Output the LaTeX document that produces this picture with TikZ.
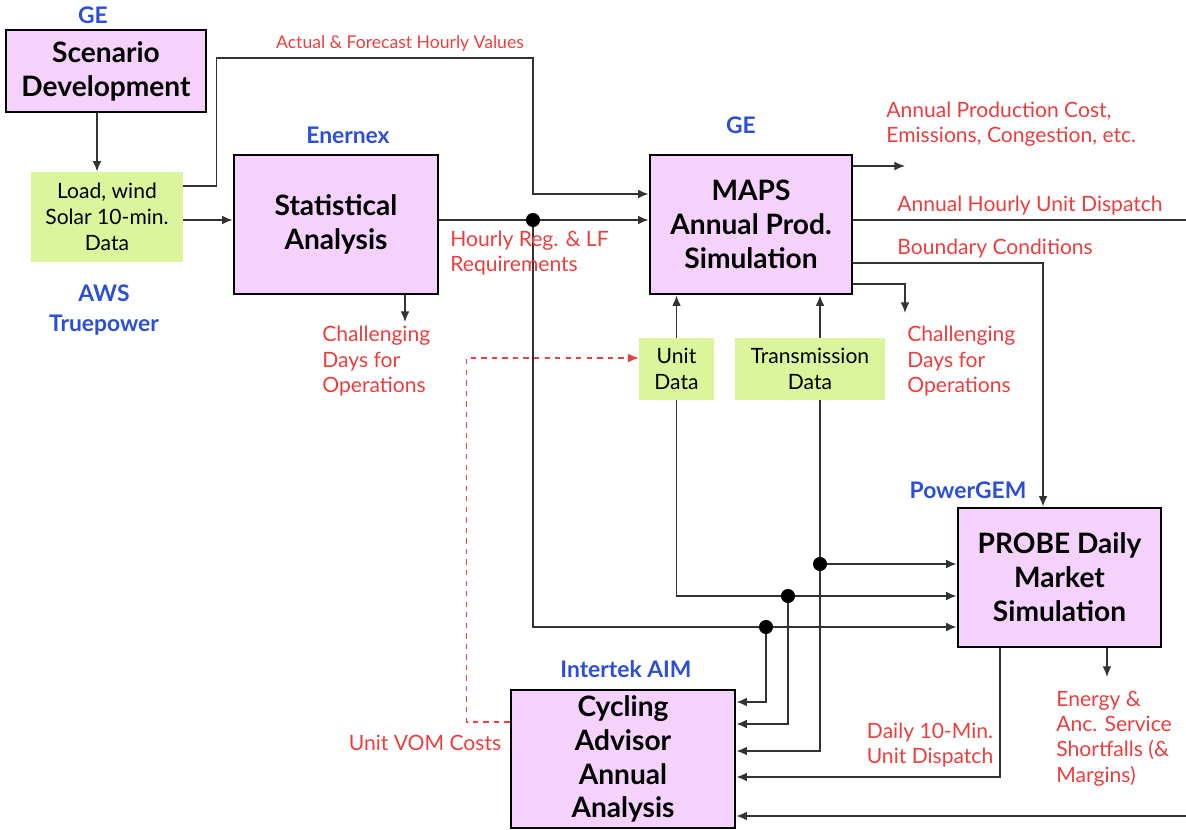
\documentclass[tikz,border=0pt]{standalone}
\usepackage{fontspec}
\setmainfont{Lato}
\usetikzlibrary{positioning,arrows.meta,calc}
\definecolor{pinkfill}{HTML}{F4D2FB}
\definecolor{greenfill}{HTML}{DAF59C}
\definecolor{orgblue}{HTML}{2C4FD6}
\definecolor{notered}{HTML}{EC3E3E}
\definecolor{wire}{HTML}{333333}

\begin{document}
\begin{tikzpicture}[x=0.02cm, y=-0.02cm,
    blk/.style={draw=black, line width=1.6pt, fill=pinkfill, align=center,
                inner sep=0pt, font=\fontsize{16}{19.3}\selectfont\bfseries},
    dat/.style={fill=greenfill, align=center, inner sep=0pt,
                font=\fontsize{12}{14.7}\selectfont},
    who/.style={text=orgblue, align=center, font=\fontsize{13}{17}\selectfont\bfseries},
    note/.style={text=notered, align=left, inner sep=0pt,
                 font=\fontsize{12}{14.5}\selectfont},
    arr/.style={draw=wire, line width=0.9pt, -{Latex[length=6pt,width=5pt]}},
    dasharr/.style={draw=notered, line width=0.8pt, dashed, -{Latex[length=6pt,width=5pt]}},
  ]
  \useasboundingbox (0,0) rectangle (1186,830);

  % Scenario development — GE
  \node[who] (geA) at (93,15) {GE};
  \node[blk, minimum width=4cm, minimum height=1.64cm] (scen) at (106,71) {Scenario\\Development};

  % Load / wind / solar data — AWS Truepower
  \node[dat, minimum width=3.04cm, minimum height=1.8cm] (load) at (107,217) {Load, wind\\Solar 10-min.\\Data};
  \node[who] (aws) at (104,310) {AWS\\Truepower};

  % Statistical analysis — Enernex
  \node[who] (enx) at (348,135) {Enernex};
  \node[blk, minimum width=4.08cm, minimum height=2.78cm] (stat) at (336,224.5) {Statistical\\Analysis};

  % MAPS — GE
  \node[who] (geB) at (741,125) {GE};
  \node[blk, minimum width=4.04cm, minimum height=2.78cm] (maps) at (751,224.5) {MAPS\\Annual Prod.\\Simulation};
  \node[dat, minimum width=1.5cm, minimum height=1.24cm] (unit) at (676.5,369) {Unit\\Data};
  \node[dat, minimum width=3cm, minimum height=1.24cm] (trans) at (810,369) {Transmission\\Data};

  % PROBE — PowerGEM
  \node[who] (pgem) at (968,490) {PowerGEM};
  \node[blk, minimum width=4.06cm, minimum height=2.78cm] (probe) at (1059.5,577.5) {PROBE Daily\\Market\\Simulation};

  % Cycling advisor — Intertek AIM
  \node[who] (aim) at (626,669) {Intertek AIM};
  \node[blk, minimum width=4.48cm, minimum height=2.76cm] (cyc) at (623,759) {Cycling\\Advisor\\Annual\\Analysis};

  % junctions and open ends
  \coordinate (jreg) at (533,220);
  \coordinate (jreg2) at (766,627);
  \coordinate (junit) at (788,596);
  \coordinate (jtx) at (820,564);
  \coordinate (statdays) at (405,322);
  \coordinate (costout) at (905,166);
  \coordinate (mapsdays) at (905,313);
  \coordinate (dispR) at (1200,220);
  \coordinate (dispB) at (1200,816);
  \coordinate (shortfall) at (1107,677);

  % connectors
  \draw[arr] (scen.south -| 97,0) -- (load.north -| 97,0);
  \draw[arr] (load.east |- jreg) -- (stat.west |- jreg);
  \draw[arr] ([yshift=0.62cm]load.east) -- ++(33,0) |- (533,58) |- ([yshift=0.61cm]maps.west);
  \draw[arr] (stat.east |- jreg) -- (maps.west |- jreg);
  \draw[arr] (stat.south -| statdays) -- (statdays);
  \draw[arr] (jreg) |- (jreg2 -| probe.west);
  \draw[arr] (jreg2) |- ([yshift=1.14cm]cyc.east);
  \draw[arr] (unit.north) -- (unit.north |- maps.south);
  \draw[arr] (unit.south) |- (junit -| probe.west);
  \draw[arr] (junit) |- ([yshift=0.7cm]cyc.east);
  \draw[arr] ([xshift=0.2cm]trans.north) -- ([xshift=0.2cm]trans.north |- maps.south);
  \draw[arr] ([xshift=0.2cm]trans.south) |- ([yshift=0.16cm]cyc.east);
  \draw[arr] (jtx) -- (jtx -| probe.west);
  \draw[arr] (maps.east |- costout) -- (costout);
  \draw[arr] (maps.east |- dispR) -- (dispR) -- (dispB) -- (dispB -| cyc.east);
  \draw[arr] ([yshift=-0.77cm]maps.east) -| ([xshift=-0.33cm]probe.north);
  \draw[arr] ([yshift=-1.19cm]maps.east) -| (mapsdays);
  \draw[arr] (probe.south -| shortfall) -- (shortfall);
  \draw[arr] ([xshift=-1.19cm]probe.south) |- ([yshift=-0.36cm]cyc.east);
  \draw[dasharr] ([yshift=0.74cm]cyc.west) -- ++(-43,0) |- ([yshift=0.22cm]unit.west);
  \foreach \j in {jreg,jreg2,junit,jtx}
    \fill[black] (\j) circle (4pt);

  % labels
  \node[note, font=\fontsize{10}{12}\selectfont] (afv) at (400,44) {Actual \& Forecast Hourly Values};
  \node[note, anchor=west] (hreg) at (450,253) {Hourly Reg. \& LF\\Requirements};
  \node[note, anchor=west] (sdays) at (322,361.5) {Challenging\\Days for\\Operations};
  \node[note, anchor=west] (apc) at (886,124) {Annual Production Cost,\\Emissions, Congestion, etc.};
  \node[note, anchor=west] (ahud) at (897,206) {Annual Hourly Unit Dispatch};
  \node[note, anchor=west] (bc) at (897,249) {Boundary Conditions};
  \node[note, anchor=west] (mdays) at (907,361.5) {Challenging\\Days for\\Operations};
  \node[note, anchor=west] (short) at (1056,738.5) {Energy \&\\Anc. Service\\Shortfalls (\&\\Margins)};
  \node[note, align=center] (d10) at (930,745) {Daily 10-Min.\\Unit Dispatch};
  \node[note] (vom) at (425,743) {Unit VOM Costs};
\end{tikzpicture}
\end{document}
